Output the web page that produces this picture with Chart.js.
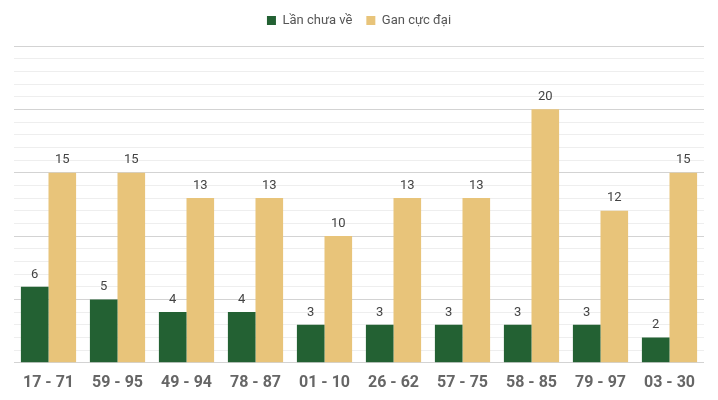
<!DOCTYPE html>
<html>
<head>
<meta charset="utf-8">
<script src="https://cdn.jsdelivr.net/npm/chart.js@4/dist/chart.umd.min.js"></script>
<style>
  html, body { margin: 0; padding: 0; background: #fff; }
  #wrap { width: 718px; height: 400px; }
</style>
</head>
<body>
<div id="wrap"><canvas id="ganChart"></canvas></div>
<script>
// data
const pairs = ['17 - 71', '59 - 95', '49 - 94', '78 - 87', '01 - 10', '26 - 62', '57 - 75', '58 - 85', '79 - 97', '03 - 30'];
const lanChuaVe = [6, 5, 4, 4, 3, 3, 3, 3, 3, 2];
const ganCucDai = [15, 15, 13, 13, 10, 13, 13, 20, 12, 15];

// draws the value above every bar
const valueLabels = {
    id: 'valueLabels',
    afterDatasetsDraw(chart) {
        const ctx = chart.ctx;
        ctx.save();
        ctx.font = '13px Roboto';
        ctx.fillStyle = '#444';
        ctx.textAlign = 'center';
        ctx.textBaseline = 'bottom';
        chart.data.datasets.forEach((ds, i) => {
            chart.getDatasetMeta(i).data.forEach((bar, j) => {
                ctx.fillText(ds.data[j], bar.x, bar.y - 6);
            });
        });
        ctx.restore();
    }
};

// a bit more room under the legend
const legendGap = {
    id: 'legendGap',
    beforeInit(chart) {
        const fit = chart.legend.fit;
        chart.legend.fit = function () {
            fit.bind(chart.legend)();
            this.height += 9;
        };
    }
};

new Chart(document.getElementById('ganChart'), {
    type: 'bar',
    data: {
        labels: pairs,
        datasets: [
            { label: 'Lần chưa về', data: lanChuaVe, backgroundColor: '#236133' },
            { label: 'Gan cực đại', data: ganCucDai, backgroundColor: '#e8c47a' }
        ]
    },
    options: {
        responsive: true,
        maintainAspectRatio: false,
        animation: false,
        layout: { padding: { left: 14, right: 14, top: 0, bottom: 4 } },
        datasets: { bar: { categoryPercentage: 0.8, barPercentage: 1.0 } },
        plugins: {
            legend: {
                position: 'top',
                labels: {
                    boxWidth: 9,
                    boxHeight: 9,
                    padding: 14,
                    color: '#555',
                    font: { family: 'Roboto', size: 13 }
                }
            },
            tooltip: { enabled: false }
        },
        scales: {
            x: {
                grid: { display: false },
                border: { display: false },
                ticks: { color: '#666', font: { family: 'Roboto', size: 16, weight: 'bold' }, padding: 3 }
            },
            y: {
                min: 0,
                max: 25,
                ticks: { display: false, stepSize: 1 },
                border: { display: false },
                grid: {
                    drawTicks: false,
                    color: (c) => c.tick && c.tick.value % 5 === 0 ? '#d3d3d3' : '#eeeeee'
                }
            }
        }
    },
    plugins: [valueLabels, legendGap]
});
</script>
</body>
</html>
